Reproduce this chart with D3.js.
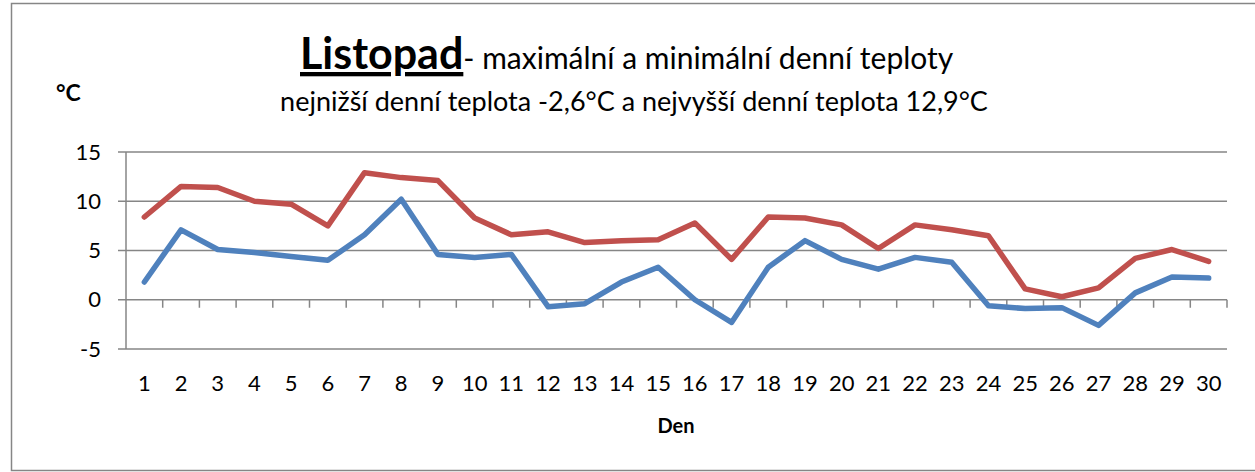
<!DOCTYPE html>
<html>
<head>
<meta charset="utf-8">
<script src="https://cdn.jsdelivr.net/npm/d3@7"></script>
<style>
  body { margin: 0; background: #fff; }
  text { font-family: Lato, "Open Sans", sans-serif; fill: #000; }
</style>
</head>
<body>
<div id="chart"></div>
<script>
// data
const days = d3.range(1, 31).map(String);
const maxTemp = [8.4, 11.5, 11.4, 10.0, 9.7, 7.5, 12.9, 12.4, 12.1, 8.3,
                 6.6, 6.9, 5.8, 6.0, 6.1, 7.8, 4.1, 8.4, 8.3, 7.6,
                 5.2, 7.6, 7.1, 6.5, 1.1, 0.3, 1.2, 4.2, 5.1, 3.9];
const minTemp = [1.8, 7.1, 5.1, 4.8, 4.4, 4.0, 6.6, 10.2, 4.6, 4.3,
                 4.6, -0.7, -0.4, 1.8, 3.3, 0.0, -2.3, 3.3, 6.0, 4.1,
                 3.1, 4.3, 3.8, -0.6, -0.9, -0.8, -2.6, 0.7, 2.3, 2.2];
const yTicks = [-5, 0, 5, 10, 15];

const W = 1255, H = 472;
const plot = { left: 126, right: 1227, top: 152, bottom: 349 };
const gridColor = "#868686";

const svg = d3.select("#chart")
  .append("svg")
    .attr("width", W)
    .attr("height", H);

// outer frame
svg.append("rect")
  .attr("x", 11.5).attr("y", 3.5)
  .attr("width", W).attr("height", 467)
  .attr("fill", "none")
  .attr("stroke", gridColor)
  .attr("stroke-width", 1.5);

const x = d3.scaleBand()
  .domain(days)
  .range([plot.left, plot.right]);

const y = d3.scaleLinear()
  .domain([-5, 15])
  .range([plot.bottom, plot.top]);

// horizontal gridlines (with small outside ticks on the left)
svg.append("g")
  .selectAll("line")
  .data(yTicks)
  .enter()
  .append("line")
    .attr("x1", plot.left - 8)
    .attr("x2", plot.right)
    .attr("y1", d => y(d))
    .attr("y2", d => y(d))
    .attr("stroke", gridColor)
    .attr("stroke-width", 1.5);

// y axis line
svg.append("line")
  .attr("x1", plot.left).attr("x2", plot.left)
  .attr("y1", y(15)).attr("y2", y(-5))
  .attr("stroke", gridColor)
  .attr("stroke-width", 1.5);

// y tick labels
svg.append("g")
  .selectAll("text")
  .data(yTicks)
  .enter()
  .append("text")
    .attr("x", 101)
    .attr("y", d => y(d) + 7.5)
    .attr("text-anchor", "end")
    .attr("font-size", "22px")
    .text(d => d);

// x axis ticks at category boundaries, hanging below the zero line
const bounds = days.map(d => x(d) + x.bandwidth());
svg.append("g")
  .selectAll("line")
  .data(bounds)
  .enter()
  .append("line")
    .attr("x1", d => d).attr("x2", d => d)
    .attr("y1", y(0)).attr("y2", y(0) + 8)
    .attr("stroke", gridColor)
    .attr("stroke-width", 1.5);

// x labels
svg.append("g")
  .selectAll("text")
  .data(days)
  .enter()
  .append("text")
    .attr("x", d => x(d) + x.bandwidth() / 2)
    .attr("y", 391)
    .attr("text-anchor", "middle")
    .attr("font-size", "22px")
    .text(d => d);

// lines
const line = d3.line()
  .x((d, i) => x(days[i]) + x.bandwidth() / 2)
  .y(d => y(d));

svg.append("path")
  .datum(maxTemp)
  .attr("d", line)
  .attr("fill", "none")
  .attr("stroke", "#C0504D")
  .attr("stroke-width", 5.5)
  .attr("stroke-linejoin", "round")
  .attr("stroke-linecap", "round");

svg.append("path")
  .datum(minTemp)
  .attr("d", line)
  .attr("fill", "none")
  .attr("stroke", "#4F81BD")
  .attr("stroke-width", 5.5)
  .attr("stroke-linejoin", "round")
  .attr("stroke-linecap", "round");

// titles
const title = svg.append("text")
  .attr("x", 300)
  .attr("y", 69);
title.append("tspan")
  .attr("font-size", "43px")
  .attr("font-weight", "bold")
  .attr("text-decoration", "underline")
  .text("Listopad");
title.append("tspan")
  .attr("font-size", "30px")
  .text("- maximální a minimální denní teploty");

svg.append("text")
  .attr("x", 634)
  .attr("y", 111)
  .attr("text-anchor", "middle")
  .attr("font-size", "27px")
  .text("nejnižší denní teplota -2,6°C a nejvyšší denní teplota 12,9°C");

svg.append("text")
  .attr("x", 56)
  .attr("y", 101)
  .attr("font-size", "23px")
  .attr("font-weight", "bold")
  .text("°C");

svg.append("text")
  .attr("x", 676)
  .attr("y", 433)
  .attr("text-anchor", "middle")
  .attr("font-size", "20px")
  .attr("font-weight", "bold")
  .text("Den");
</script>
</body>
</html>
